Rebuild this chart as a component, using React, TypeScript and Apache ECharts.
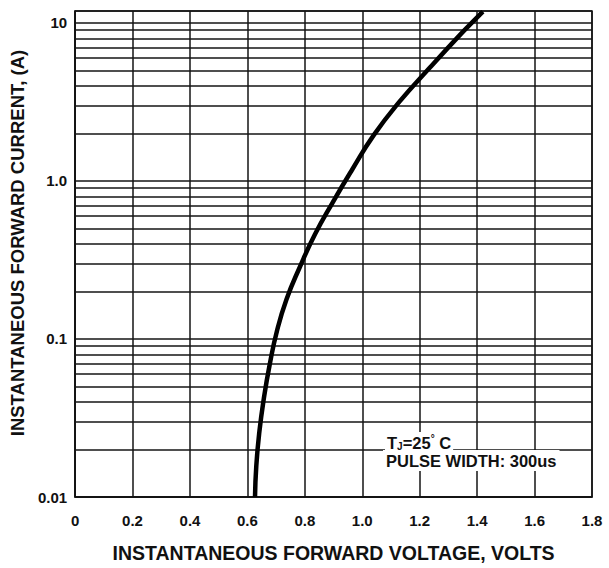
import React, { useEffect, useRef } from "react";
import * as echarts from "echarts";

// Forward voltage (V) and forward current (A)
const voltage = [0.6265, 0.631, 0.6418, 0.6573, 0.6772, 0.7027, 0.7363, 0.7823, 0.8354, 0.8973, 0.9646, 1.04, 1.1304, 1.2348, 1.3461, 1.3983, 1.42];
const current = [0.01, 0.01576, 0.02594, 0.04207, 0.06823, 0.112, 0.1784, 0.2844, 0.4598, 0.7328, 1.178, 1.951, 3.186, 5.202, 8.621, 10.77, 11.8];

// Minor horizontal grid lines of the log paper
const minorGridCurrents = [
  0.02, 0.03, 0.04, 0.05, 0.06, 0.07, 0.08, 0.09,
  0.2, 0.3, 0.4, 0.5, 0.6, 0.7, 0.8, 0.9,
  2, 3, 4, 5, 6, 7, 8, 9,
];

const xTitle = "INSTANTANEOUS FORWARD VOLTAGE, VOLTS";
const yTitle = "INSTANTANEOUS FORWARD CURRENT, (A)";
const noteLine1 = "{n|T}{sub|J}{n|=25}{sup|°}{n| C}";
const noteLine2 = "PULSE WIDTH: 300us";

const FONT = "'Liberation Sans', Arial, Helvetica, sans-serif";

export default function App() {
  const ref = useRef<HTMLDivElement>(null);
  useEffect(() => {
    if (!ref.current) return;
    const chart = echarts.init(ref.current, undefined, { renderer: "svg" });
    const gridLine = { color: "#151515", width: 1.5, type: "solid" as const };
    chart.setOption({
      animation: false,
      backgroundColor: "#ffffff",
      textStyle: { fontFamily: FONT },
      grid: {
        left: 74,
        right: 17,
        top: 11,
        bottom: 70,
        show: true,
        borderColor: "#111",
        borderWidth: 1.5,
        containLabel: false,
      },
      xAxis: {
        type: "value",
        min: 0,
        max: 1.8,
        interval: 0.2,
        name: xTitle,
        nameLocation: "middle",
        nameGap: 46,
        nameTextStyle: { fontSize: 19.5, fontWeight: "bold", color: "#111", fontFamily: FONT },
        axisLine: { show: true, lineStyle: { color: "#111", width: 1.5 } },
        axisTick: { show: false },
        axisLabel: {
          margin: 16,
          fontSize: 15,
          fontWeight: "bold",
          color: "#111",
          fontFamily: FONT,
          formatter: (v: number) => (Math.abs(v) < 1e-9 ? "0" : v.toFixed(1)),
        },
        splitLine: { show: true, lineStyle: gridLine },
      },
      yAxis: {
        type: "log",
        logBase: 10,
        min: 0.01,
        max: 11.9,
        name: yTitle,
        nameLocation: "middle",
        nameRotate: 90,
        nameGap: 44,
        nameTextStyle: {
          fontSize: 18.5,
          fontWeight: "bold",
          color: "#111",
          fontFamily: FONT,
          padding: [0, 0, 0, 22],
        },
        axisLine: { show: true, lineStyle: { color: "#111", width: 1.5 } },
        axisTick: { show: false },
        axisLabel: {
          margin: 8,
          fontSize: 15,
          fontWeight: "bold",
          color: "#111",
          fontFamily: FONT,
          formatter: (v: number) => {
            const e = Math.log10(v);
            if (Math.abs(e - Math.round(e)) > 1e-6) return "";
            const r = Math.round(e);
            if (r === -2) return "0.01";
            if (r === -1) return "0.1";
            if (r === 0) return "1.0";
            if (r === 1) return "10";
            return "";
          },
        },
        splitLine: { show: true, lineStyle: gridLine },
      },
      series: [
        {
          type: "line",
          data: voltage.map((v, i) => [v, current[i]]),
          smooth: 0.5,
          showSymbol: false,
          symbol: "none",
          lineStyle: { color: "#000", width: 4.5 },
          z: 5,
          markLine: {
            silent: true,
            symbol: "none",
            label: { show: false },
            lineStyle: gridLine,
            z: 1,
            data: minorGridCurrents.map((c) => ({ yAxis: c })),
          },
        },
      ],
      graphic: [
        {
          type: "text",
          left: 385,
          top: 432,
          z: 100,
          style: {
            text: noteLine1,
            fill: "#111",
            font: `bold 16.5px ${FONT}`,
            backgroundColor: "#ffffff",
            padding: [1, 2, 1, 2],
            rich: {
              n: { fontSize: 16.5, fontWeight: "bold", fontFamily: FONT, fill: "#111" },
              sub: { fontSize: 10, fontWeight: "bold", fontFamily: FONT, fill: "#111", padding: [7, 0, 0, 0] },
              sup: { fontSize: 10, fontWeight: "bold", fontFamily: FONT, fill: "#111", padding: [0, 0, 9, 0] },
            },
          },
        },
        {
          type: "text",
          left: 383,
          top: 450,
          z: 100,
          style: {
            text: noteLine2,
            fill: "#111",
            font: `bold 16.5px ${FONT}`,
            backgroundColor: "#ffffff",
            padding: [2, 3, 2, 3],
          },
        },
      ],
    });
    return () => chart.dispose();
  }, []);
  return (
    <div
      ref={ref}
      style={{ position: "fixed", left: 0, top: 0, width: 609, height: 568, background: "#fff" }}
    />
  );
}
